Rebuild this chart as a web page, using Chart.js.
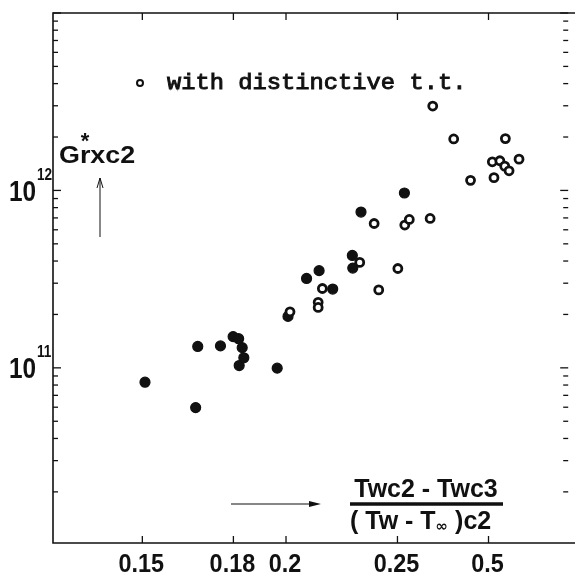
<!DOCTYPE html>
<html>
<head>
    <title>Grxc2 vs (Twc2-Twc3)/(Tw-Too)c2</title>
    <script src="https://cdn.jsdelivr.net/npm/chart.js"></script>
    <style>
        html, body { margin: 0; padding: 0; background: #fff; overflow: hidden; }
        canvas { display: block; }
    </style>
</head>
<body>
    <canvas id="chart" width="575" height="576"></canvas>

    <script>
        // points without distinctive t.t. (filled)
        const filledX = [0.1508, 0.1669, 0.1676, 0.1754, 0.1799, 0.1819, 0.1832, 0.1838, 0.1821, 0.1965,
                         0.2008, 0.2084, 0.2137, 0.2196, 0.2284, 0.2286, 0.2324, 0.2535];
        const filledY = [8.30e10, 5.97e10, 1.32e11, 1.33e11, 1.50e11, 1.46e11, 1.30e11, 1.14e11, 1.03e11, 9.96e10,
                         1.95e11, 3.19e11, 3.53e11, 2.78e11, 4.30e11, 3.65e11, 7.55e11, 9.67e11];

        // points with distinctive t.t. (open circles)
        const openX = [0.2016, 0.2133, 0.2133, 0.2151, 0.2318, 0.2386, 0.2408, 0.2502, 0.2537, 0.2560, 0.2669,
                       0.2683, 0.2798, 0.3103, 0.3023, 0.3069, 0.3099, 0.3126, 0.3189, 0.2894, 0.3033];
        const openY = [2.07e11, 2.34e11, 2.19e11, 2.80e11, 3.93e11, 6.51e11, 2.75e11, 3.63e11, 6.38e11, 6.86e11, 6.95e11,
                       2.99e12, 1.95e12, 1.96e12, 1.45e12, 1.47e12, 1.37e12, 1.29e12, 1.50e12, 1.14e12, 1.18e12];

        // axis ticks (the last x label reads "0.5" in the original figure)
        const xTickValues = [0.15, 0.18, 0.2, 0.25, 0.3];
        const xTickLabels = ['0.15', '0.18', '0.2', '0.25', '0.5'];
        const yTickValues = [1e11, 1e12];
        const yTickExps = ['11', '12'];

        const toPoints = (xs, ys) => xs.map((x, i) => ({ x: x, y: ys[i] }));

        function txt(ctx, s, x, y, font, align, sx, stroke) {
            ctx.save();
            ctx.font = font;
            ctx.textAlign = align || 'left';
            ctx.textBaseline = 'alphabetic';
            ctx.translate(x, y);
            ctx.scale(sx || 1, 1);
            ctx.fillText(s, 0, 0);
            if (stroke) {
                ctx.lineWidth = stroke;
                ctx.strokeText(s, 0, 0);
            }
            ctx.restore();
        }
        function wid(ctx, s, font, sx) {
            ctx.save();
            ctx.font = font;
            const w = ctx.measureText(s).width * (sx || 1);
            ctx.restore();
            return w;
        }
        function seg(ctx, x1, y1, x2, y2) {
            ctx.beginPath();
            ctx.moveTo(x1, y1);
            ctx.lineTo(x2, y2);
            ctx.stroke();
        }

        // frame, inward ticks, labels and annotations
        const decor = {
            id: 'decor',
            afterDraw(chart) {
                const { ctx, chartArea: a } = chart;
                const xs = chart.scales.x, ys = chart.scales.y;
                ctx.save();
                ctx.strokeStyle = '#111';
                ctx.fillStyle = '#111';
                ctx.lineWidth = 1.6;
                // right border falls outside the picture, only its ticks show
                ctx.beginPath();
                ctx.moveTo(chart.width, a.top);
                ctx.lineTo(a.left, a.top);
                ctx.lineTo(a.left, a.bottom);
                ctx.lineTo(chart.width, a.bottom);
                ctx.stroke();

                // y ticks, both sides
                ctx.lineWidth = 1.3;
                for (let e = 10; e <= 13; e++) {
                    for (let m = 1; m <= 9; m++) {
                        const v = m * Math.pow(10, e);
                        if (v < ys.min || v > ys.max * 1.001) continue;
                        const py = ys.getPixelForValue(v);
                        const len = m === 1 ? 8 : 5;
                        seg(ctx, a.left, py, a.left + len, py);
                        seg(ctx, a.right, py, a.right - len, py);
                    }
                }
                // x ticks, bottom and top
                xTickValues.forEach((v, i) => {
                    const px = xs.getPixelForValue(v);
                    seg(ctx, px, a.bottom, px, a.bottom - 7);
                    seg(ctx, px, a.top, px, a.top + 7);
                    txt(ctx, xTickLabels[i], px - 1, 572, 'bold 26px "Liberation Sans", Arial, sans-serif', 'center', 0.9);
                });
                // y labels 10^n
                yTickValues.forEach((v, i) => {
                    const py = ys.getPixelForValue(v);
                    txt(ctx, '10', 36, py + 10.5, 'bold 29px "Liberation Sans", Arial, sans-serif', 'right', 0.84);
                    txt(ctx, yTickExps[i], 37, py - 10.5, 'bold 17px "Liberation Sans", Arial, sans-serif', 'left', 0.8);
                });

                // legend
                ctx.lineWidth = 2;
                ctx.beginPath();
                ctx.arc(140, 83, 3, 0, Math.PI * 2);
                ctx.stroke();
                txt(ctx, 'with distinctive t.t.', 167, 89, '22px "Liberation Mono", "Courier New", monospace', 'left', 1.08, 0.9);

                // y axis title Gr*xc2 with arrow
                const gf = 'bold 24px "Liberation Sans", Arial, sans-serif';
                txt(ctx, 'Grxc2', 59, 163, gf, 'left', 1.12);
                const rx = 59 + wid(ctx, 'G', gf, 1.12) + wid(ctx, 'r', gf, 1.12) / 2;
                txt(ctx, '*', rx, 148, 'bold 22px "Liberation Sans", Arial, sans-serif', 'center', 1);
                ctx.lineWidth = 1;
                seg(ctx, 100, 237, 100, 178);
                seg(ctx, 100, 178, 97, 188);
                seg(ctx, 100, 178, 103, 188);

                // x axis title: arrow and fraction
                ctx.lineWidth = 1.2;
                seg(ctx, 231, 504, 312, 504);
                ctx.beginPath();
                ctx.moveTo(321, 504);
                ctx.lineTo(309, 501);
                ctx.lineTo(309, 507);
                ctx.closePath();
                ctx.fill();

                const ff = 'bold 25px "Liberation Sans", Arial, sans-serif';
                txt(ctx, 'Twc2 - Twc3', 426, 497, ff, 'center', 1);
                ctx.lineWidth = 3.5;
                seg(ctx, 350, 504, 503, 504);
                let dx = 350;
                const parts = [['( Tw - T', ff, 0], ['\u221E', 'bold 15px "DejaVu Sans", sans-serif', 1], [' )c2', ff, 0]];
                parts.forEach(p => {
                    txt(ctx, p[0], dx, p[2] ? 531 : 529, p[1], 'left', 1);
                    dx += wid(ctx, p[0], p[1], 1);
                });
                ctx.restore();
            }
        };

        const config = {
            type: 'scatter',
            data: {
                datasets: [{
                    label: 'with distinctive t.t.',
                    data: toPoints(openX, openY),
                    pointStyle: 'circle',
                    pointRadius: 4,
                    pointBorderWidth: 2.8,
                    pointBackgroundColor: '#fff',
                    pointBorderColor: '#111'
                }, {
                    label: 'without',
                    data: toPoints(filledX, filledY),
                    pointStyle: 'circle',
                    pointRadius: 5,
                    pointBorderWidth: 1.2,
                    pointBackgroundColor: '#111',
                    pointBorderColor: '#111'
                }]
            },
            options: {
                responsive: false,
                animation: false,
                devicePixelRatio: 1,
                layout: { padding: { left: 53, top: 13, right: 1, bottom: 33 } },
                plugins: {
                    legend: { display: false },
                    tooltip: { enabled: false }
                },
                scales: {
                    x: { type: 'logarithmic', display: false, bounds: 'data', min: 0.12543, max: 0.3519 },
                    y: { type: 'logarithmic', display: false, bounds: 'data', min: 1.03e10, max: 1e13 }
                }
            },
            plugins: [decor]
        };

        window.onload = () => {
            new Chart(document.getElementById('chart').getContext('2d'), config);
        };
    </script>
</body>
</html>
